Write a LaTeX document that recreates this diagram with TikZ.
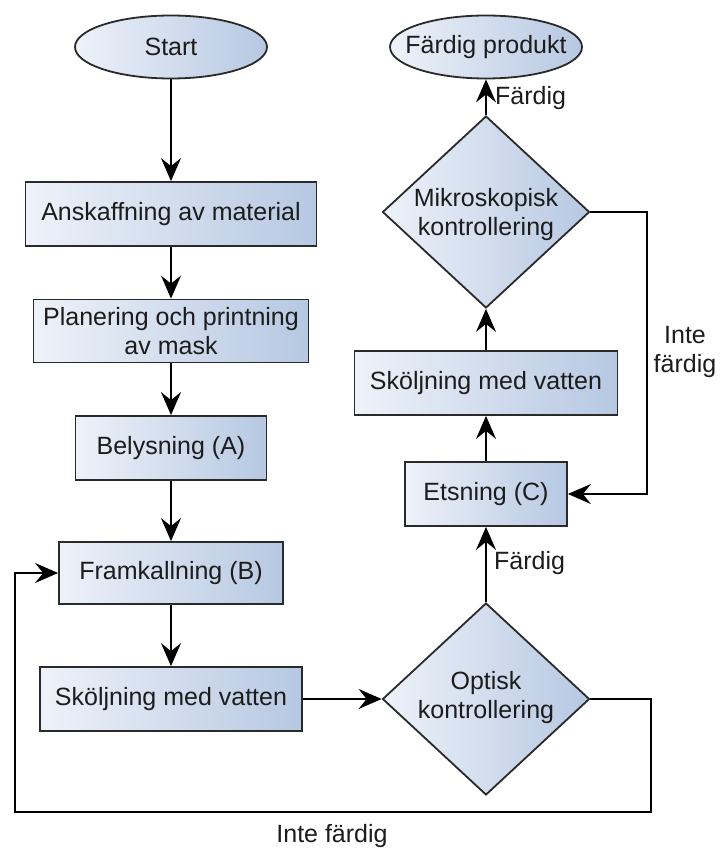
\documentclass[tikz,border=0pt]{standalone}
\usepackage{fontspec}
\setmainfont{Liberation Sans}
\usetikzlibrary{shapes.geometric,arrows.meta}
\definecolor{boxL}{HTML}{EEF2F9}
\definecolor{boxR}{HTML}{B6C8E2}
\definecolor{edge}{HTML}{2A2A2A}
\definecolor{txt}{HTML}{1C1C1C}
\tikzset{
  basefont/.style={font=\fontsize{25}{29}\selectfont, text=txt},
  procbox/.style={rectangle, draw=edge, line width=1.8pt, left color=boxL, right color=boxR,
    inner sep=0pt, basefont, align=center},
  termshape/.style={ellipse, draw=edge, line width=1.8pt, left color=boxL, right color=boxR,
    inner sep=0pt, minimum width=192pt, minimum height=63pt},
  decshape/.style={diamond, draw=edge, line width=1.8pt, left color=boxL, right color=boxR,
    inner sep=0pt, minimum width=207pt, minimum height=192pt},
  ctr/.style={basefont, align=center, inner sep=0pt},
  arr/.style={draw=black, line width=1.6pt, -{Stealth[length=23pt,width=20pt,inset=8pt]}},
  lbl/.style={basefont, inner sep=0pt, align=center}
}
\begin{document}
\begin{tikzpicture}[x=1pt,y=-1pt]
\useasboundingbox (0,0) rectangle (721,850);
% left column
\node[termshape] (start) at (171,47) {};
\node[ctr] (starttxt) at (start) {Start};
\node[procbox, minimum width=291pt, minimum height=64pt] (ansk) at (171,214) {Anskaffning av material};
\node[procbox, minimum width=275pt, minimum height=63pt] (plan) at (171,331) {Planering och printning\\av mask};
\node[procbox, minimum width=191pt, minimum height=64pt] (bel) at (171,448) {Belysning (A)};
\node[procbox, minimum width=224pt, minimum height=62pt] (fram) at (171,573) {Framkallning (B)};
\node[procbox, minimum width=262pt, minimum height=64pt] (skol1) at (171,699) {Sköljning med vatten};
% right column
\node[decshape] (opt) at (486,699) {};
\node[ctr] (opttxt) at (486,698) {Optisk\\kontrollering};
\node[procbox, minimum width=162pt, minimum height=64pt] (ets) at (486,494) {Etsning (C)};
\node[procbox, minimum width=263pt, minimum height=64pt] (skol2) at (486,383) {Sköljning med vatten};
\node[decshape] (mik) at (486,212) {};
\node[ctr] (miktxt) at (486,215) {Mikroskopisk\\kontrollering};
\node[termshape] (fp) at (486,47) {};
\node[ctr] (fptxt) at (fp) {Färdig produkt};
% connectors
\draw[arr] (start) -- (ansk);
\draw[arr] (ansk) -- (plan);
\draw[arr] (plan) -- (bel);
\draw[arr] (bel) -- (fram);
\draw[arr] (fram) -- (skol1);
\draw[arr] (skol1) -- (opt);
\coordinate (c1) at (651,812);
\coordinate (c2) at (15,812);
\draw[arr] (opt.east) -| (c1) -- (c2) |- (fram.west);
\draw[arr] (opt.north) -- (ets.south);
\draw[arr] (ets) -- (skol2);
\draw[arr] (skol2) -- (mik.south);
\draw[arr] (mik.north) -- (fp.south);
\coordinate (c3) at (647,212);
\draw[arr] (mik.east) -- (c3) |- (ets.east);
% labels
\node[lbl, anchor=west] (l1) at (495,98) {Färdig};
\node[lbl, anchor=west] (l2) at (494,563) {Färdig};
\node[lbl] (l3) at (332,836) {Inte färdig};
\node[lbl] (l4) at (685,352) {Inte\\färdig};
\end{tikzpicture}
\end{document}
